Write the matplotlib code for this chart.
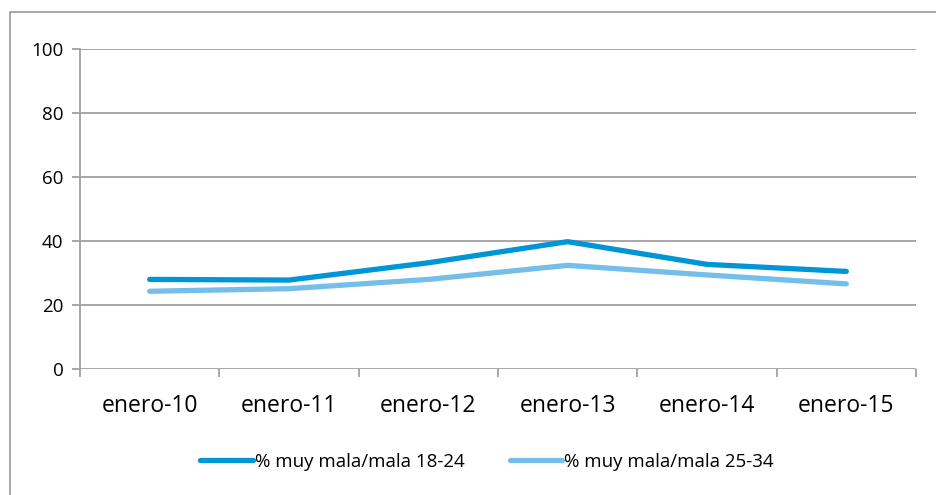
import matplotlib
matplotlib.use("Agg")
import matplotlib.pyplot as plt
from matplotlib.patches import Rectangle

categories = ["enero-10", "enero-11", "enero-12", "enero-13", "enero-14", "enero-15"]
series_names = ["% muy mala/mala 18-24", "% muy mala/mala 25-34"]
s_18_24 = [27.9, 27.7, 33.1, 39.7, 32.6, 30.4]
s_25_34 = [24.2, 25.0, 27.9, 32.3, 29.3, 26.5]
y_ticks = [0, 20, 40, 60, 80, 100]

plt.rcParams['font.family'] = ['Open Sans', 'DejaVu Sans']

W, H = 936, 495
fig = plt.figure(figsize=(W / 100, H / 100), dpi=100)
fig.patch.set_facecolor("white")

# outer chart border
fig.add_artist(Rectangle((10 / W, -0.01), 1.02, 1 - 12 / H + 0.01, transform=fig.transFigure,
                         fill=False, edgecolor="#9A9A9A", linewidth=1.2))

left, right, top, bottom = 80, 916, 48.7, 368.7
ax = fig.add_axes([left / W, 1 - bottom / H, (right - left) / W, (bottom - top) / H])

grid_c = "#A0A0A0"
x = list(range(len(categories)))
ax.plot(x, s_18_24, color="#0096D6", lw=3.8, solid_capstyle="round", solid_joinstyle="round",
        label=series_names[0], zorder=3)
ax.plot(x, s_25_34, color="#75BEEA", lw=3.8, solid_capstyle="round", solid_joinstyle="round",
        label=series_names[1], zorder=3)

ax.set_xlim(-0.5, len(categories) - 0.5)
ax.set_ylim(0, 100)
ax.set_yticks(y_ticks)
ax.set_yticklabels([str(v) for v in y_ticks], fontsize=13.5)
for v in y_ticks:
    ax.axhline(v, color=grid_c, lw=1.3, zorder=1)

ax.set_xticks([i - 0.5 for i in range(len(categories) + 1)])
ax.set_xticklabels([])
ax.set_xticks(x, minor=True)
ax.set_xticklabels(categories, minor=True, fontsize=16.5)
ax.tick_params(axis="x", which="minor", length=0, pad=18)
ax.tick_params(axis="x", which="major", length=6, color=grid_c, width=1.3, direction="out")
ax.tick_params(axis="y", length=6, color=grid_c, width=1.3, pad=6)

for s in ["top", "right", "bottom"]:
    ax.spines[s].set_visible(False)
ax.spines["left"].set_color(grid_c)
ax.spines["left"].set_linewidth(1.3)

fig.legend(loc="center", bbox_to_anchor=(487 / W, 1 - 462 / H), ncol=2, frameon=False,
           fontsize=13.5, handlelength=2.8, handletextpad=0.12, columnspacing=2.4)

fig.savefig("out.png", dpi=100)
